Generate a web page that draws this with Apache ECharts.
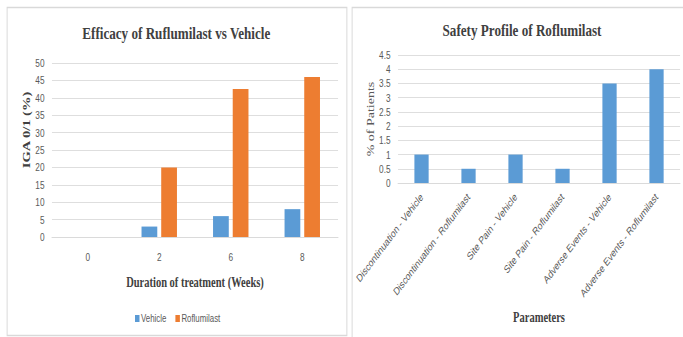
<!DOCTYPE html>
<html>
<head>
<meta charset="utf-8">
<script src="https://cdn.jsdelivr.net/npm/echarts@6/dist/echarts.min.js"></script>
<style>
html,body{margin:0;padding:0;background:#fff;overflow:hidden;width:683px;height:337px;}
/* The reference picture is horizontally squeezed to 75%; the chart is drawn at full width and squeezed the same way */
#chart{width:911px;height:337px;transform:scale(0.75,1);transform-origin:0 0;}
</style>
</head>
<body>
<div id="chart"></div>
<script>
const weekCategories = ['0', '2', '6', '8'];
const vehicleIGA = [0, 3, 6, 8];
const roflumilastIGA = [0, 20, 42.5, 46];
const safetyCategories = [
  'Discontinuation - Vehicle',
  'Discontinuation - Roflumilast',
  'Site Pain - Vehicle',
  'Site Pain - Roflumilast',
  'Adverse Events - Vehicle',
  'Adverse Events - Roflumilast'
];
const safetyValues = [1, 0.5, 1, 0.5, 3.5, 4];

const tickFont = { fontFamily: 'Liberation Sans, Arial, sans-serif', fontSize: 11, color: '#595959' };
const gridLine = { lineStyle: { color: '#d9d9d9', width: 1 } };
const serifBold = { fontFamily: 'Liberation Serif, Times New Roman, serif', fontWeight: 'bold', color: '#404040' };

const chart = echarts.init(document.getElementById('chart'), null, { renderer: 'svg', width: 911, height: 337 });
chart.setOption({
  animation: false,
  backgroundColor: '#fff',
  graphic: [
    { type: 'rect', shape: { x: 9.5, y: 7.5, width: 453, height: 328 }, style: { fill: 'none', stroke: '#d9d9d9', lineWidth: 1.3 }, silent: true },
    { type: 'rect', shape: { x: 469.5, y: 7.5, width: 460, height: 340 }, style: { fill: 'none', stroke: '#d9d9d9', lineWidth: 1.3 }, silent: true }
  ],
  title: [
    { text: 'Efficacy of Ruflumilast vs Vehicle', left: 230, top: 19, textAlign: 'center',
      textStyle: Object.assign({ fontSize: 17.5 }, serifBold) },
    { text: 'Safety Profile of Roflumilast', left: 691, top: 16, textAlign: 'center',
      textStyle: Object.assign({ fontSize: 17.5 }, serifBold) }
  ],
  legend: {
    data: ['Vehicle', 'Roflumilast'],
    left: 180, top: 313, padding: 0,
    itemWidth: 6, itemHeight: 7, itemGap: 12,
    icon: 'rect',
    textStyle: { fontFamily: 'Liberation Sans, Arial, sans-serif', fontSize: 10.5, color: '#595959', padding: [0, 0, 0, -3] }
  },
  grid: [
    { left: 69.3, right: 911 - 450.7, top: 63, bottom: 337 - 237, containLabel: false },
    { left: 530.7, right: 911 - 906.7, top: 55, bottom: 337 - 183, containLabel: false }
  ],
  xAxis: [
    { type: 'category', gridIndex: 0, data: weekCategories,
      axisLine: gridLine, axisTick: { show: false },
      axisLabel: Object.assign({ margin: 15 }, tickFont),
      name: 'Duration of treatment (Weeks)', nameLocation: 'middle', nameGap: 38,
      nameTextStyle: Object.assign({ fontSize: 14 }, serifBold) },
    { type: 'category', gridIndex: 1, data: safetyCategories,
      axisLine: gridLine, axisTick: { show: false },
      axisLabel: Object.assign({ margin: 12, rotate: 45, interval: 0 }, tickFont),
      name: 'Parameters', nameLocation: 'middle', nameGap: 127,
      nameTextStyle: Object.assign({ fontSize: 14 }, serifBold) }
  ],
  yAxis: [
    { type: 'value', gridIndex: 0, min: 0, max: 50, interval: 5,
      axisLine: { show: false }, axisTick: { show: false },
      splitLine: gridLine,
      axisLabel: Object.assign({ margin: 10 }, tickFont),
      name: 'IGA 0/1 (%)', nameLocation: 'middle', nameGap: 20, nameRotate: 90,
      nameTextStyle: Object.assign({ fontSize: 14.5, padding: [0, 0, 0, 40] }, serifBold) },
    { type: 'value', gridIndex: 1, min: 0, max: 4.5, interval: 0.5,
      axisLine: { show: false }, axisTick: { show: false },
      splitLine: gridLine,
      axisLabel: Object.assign({ margin: 10 }, tickFont),
      name: '% of Patients', nameLocation: 'middle', nameGap: 25, nameRotate: 90,
      nameTextStyle: { fontFamily: 'Liberation Serif, Times New Roman, serif', fontSize: 14, color: '#595959' } }
  ],
  series: [
    { name: 'Vehicle', type: 'bar', xAxisIndex: 0, yAxisIndex: 0, data: vehicleIGA,
      barWidth: 21, barGap: '25%', itemStyle: { color: '#5B9BD5' } },
    { name: 'Roflumilast', type: 'bar', xAxisIndex: 0, yAxisIndex: 0, data: roflumilastIGA,
      barWidth: 21, barGap: '25%', itemStyle: { color: '#ED7D31' } },
    { name: 'Safety', type: 'bar', xAxisIndex: 1, yAxisIndex: 1, data: safetyValues,
      barWidth: 19, itemStyle: { color: '#5B9BD5' } }
  ]
});
</script>
</body>
</html>
